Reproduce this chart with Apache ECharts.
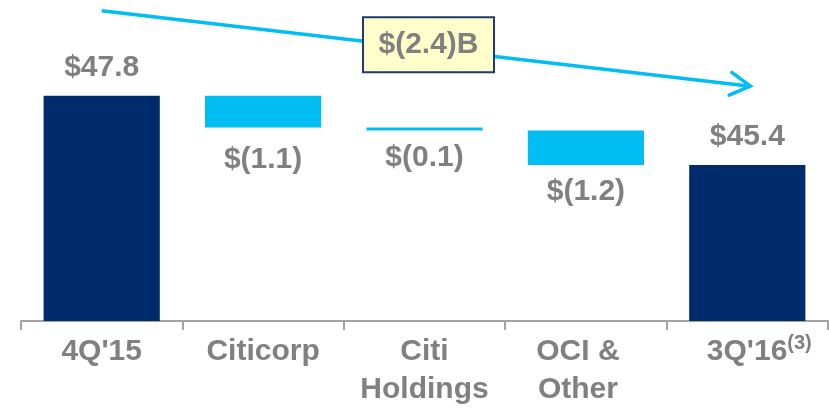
<!DOCTYPE html>
<html>
<head>
<meta charset="utf-8">
<script src="https://cdn.jsdelivr.net/npm/echarts@6/dist/echarts.min.js"></script>
<style>
  html, body { margin: 0; padding: 0; background: #ffffff; }
  #main { width: 829px; height: 410px; }
</style>
</head>
<body>
<div id="main"></div>
<script>
// ---- data ----
const categories = ["4Q'15", "Citicorp", "Citi\nHoldings", "OCI &\nOther", "3Q'16"];
const footnotes = ["", "", "", "", "(3)"];
const startValue = 47.8;
const changes = [-1.1, -0.1, -1.2];
const endValue = 45.4;

// ---- derived waterfall layout ----
const r1 = v => Math.round(v * 10) / 10;
const baseVals = [0];
const barVals = [startValue];
const kinds = ['total'];
let running = startValue;
changes.forEach(c => {
  running = r1(running + c);
  baseVals.push(running);
  barVals.push(r1(-c));
  kinds.push('delta');
});
baseVals.push(0);
barVals.push(endValue);
kinds.push('total');
const totalChange = r1(changes.reduce((a, b) => a + b, 0));

const NAVY = '#002C6E';
const CYAN = '#00BEF2';
const GRAY = '#808080';
const FONT = '"Liberation Sans", Arial, sans-serif';

const fmtMoney = v => v < 0 ? '$(' + Math.abs(v).toFixed(1) + ')' : '$' + v.toFixed(1);

// label gap below each change bar (style only)
const belowGap = [0, 17, 12, 12, 0];

const visData = barVals.map((v, i) => ({
  value: v,
  itemStyle: { color: kinds[i] === 'total' ? NAVY : CYAN },
  label: kinds[i] === 'total'
    ? { position: 'top', distance: 13 }
    : { position: 'bottom', distance: belowGap[i] }
}));

const chart = echarts.init(document.getElementById('main'), null, { renderer: 'canvas' });

const option = {
  animation: false,
  grid: { left: 21, right: 1, top: 90, bottom: 89 },
  xAxis: {
    type: 'category',
    data: categories,
    axisLine: { lineStyle: { color: '#A3A3A3', width: 2 } },
    axisTick: { show: true, length: 9, lineStyle: { color: '#A3A3A3', width: 2 } },
    axisLabel: {
      interval: 0,
      margin: 12,
      color: GRAY,
      fontFamily: FONT,
      fontWeight: 'bold',
      fontSize: 30,
      lineHeight: 38,
      formatter: function (value, idx) {
        const lines = value.split('\n');
        const fn = footnotes[idx];
        if (fn) {
          return '{sp|}{a|' + lines.join('}\n{a|') + '}{sup|' + fn + '}';
        }
        if (idx === 3) {
          return lines.map(l => '{a|' + l + '}{sp2|}').join('\n');
        }
        return lines.map(l => '{a|' + l + '}').join('\n');
      },
      rich: {
        a: { color: GRAY, fontFamily: FONT, fontWeight: 'bold', fontSize: 30, lineHeight: 38 },
        sup: { color: GRAY, fontFamily: FONT, fontWeight: 'bold', fontSize: 20, lineHeight: 20, verticalAlign: 'top' },
        sp: { width: 24, fontSize: 20 },
        sp2: { width: 16, fontSize: 20 }
      }
    }
  },
  yAxis: {
    type: 'value',
    min: 40,
    max: 48,
    show: false,
    splitLine: { show: false }
  },
  series: [
    {
      name: 'base',
      type: 'bar',
      stack: 'wf',
      barWidth: '72%',
      itemStyle: { color: 'transparent' },
      emphasis: { disabled: true },
      data: baseVals,
      silent: true
    },
    {
      name: 'value',
      type: 'bar',
      stack: 'wf',
      barWidth: '72%',
      data: visData,
      label: {
        show: true,
        color: GRAY,
        fontFamily: FONT,
        fontWeight: 'bold',
        fontSize: 30,
        lineHeight: 30,
        formatter: p => kinds[p.dataIndex] === 'total' ? fmtMoney(p.value) : fmtMoney(-p.value)
      }
    }
  ]
};
chart.setOption(option);

// ---- annotation arrow and total-change box, anchored to the chart ----
const pStart = chart.convertToPixel({ gridIndex: 0 }, [0, startValue]);
const pEnd = chart.convertToPixel({ gridIndex: 0 }, [categories.length - 1, endValue]);
const pMid = chart.convertToPixel({ gridIndex: 0 }, [2, startValue]);
const x1 = pStart[0], y1 = pStart[1] - 85;
const x2 = pEnd[0] + 3, y2 = pEnd[1] - 79;
const bx = pMid[0] + 4;
const by = y1 + (bx - x1) / (x2 - x1) * (y2 - y1) - 4;
const ang = Math.atan2(y2 - y1, x2 - x1);
const headLen = 23, headAng = 0.52;
const hA = [x2 - headLen * Math.cos(ang - headAng), y2 - headLen * Math.sin(ang - headAng)];
const hB = [x2 - headLen * Math.cos(ang + headAng), y2 - headLen * Math.sin(ang + headAng)];

chart.setOption({
  graphic: [
    {
      type: 'line', z: 10, silent: true,
      shape: { x1: x1, y1: y1, x2: x2 - 2, y2: y2 },
      style: { stroke: CYAN, lineWidth: 3.5 }
    },
    {
      type: 'polyline', z: 10, silent: true,
      shape: { points: [hA, [x2, y2], hB] },
      style: { stroke: CYAN, lineWidth: 3.5, fill: null, lineCap: 'round', lineJoin: 'miter' }
    },
    {
      type: 'rect', z: 11, silent: true,
      shape: { x: bx - 65.5, y: by - 27.5, width: 131, height: 55 },
      style: { fill: '#FFFFCC', stroke: '#1F3A6E', lineWidth: 2 }
    },
    {
      type: 'text', z: 12, silent: true,
      x: bx, y: by,
      style: {
        text: fmtMoney(totalChange) + 'B',
        align: 'center', verticalAlign: 'middle',
        fill: GRAY,
        font: 'bold 30px ' + FONT
      }
    }
  ]
});
</script>
</body>
</html>
